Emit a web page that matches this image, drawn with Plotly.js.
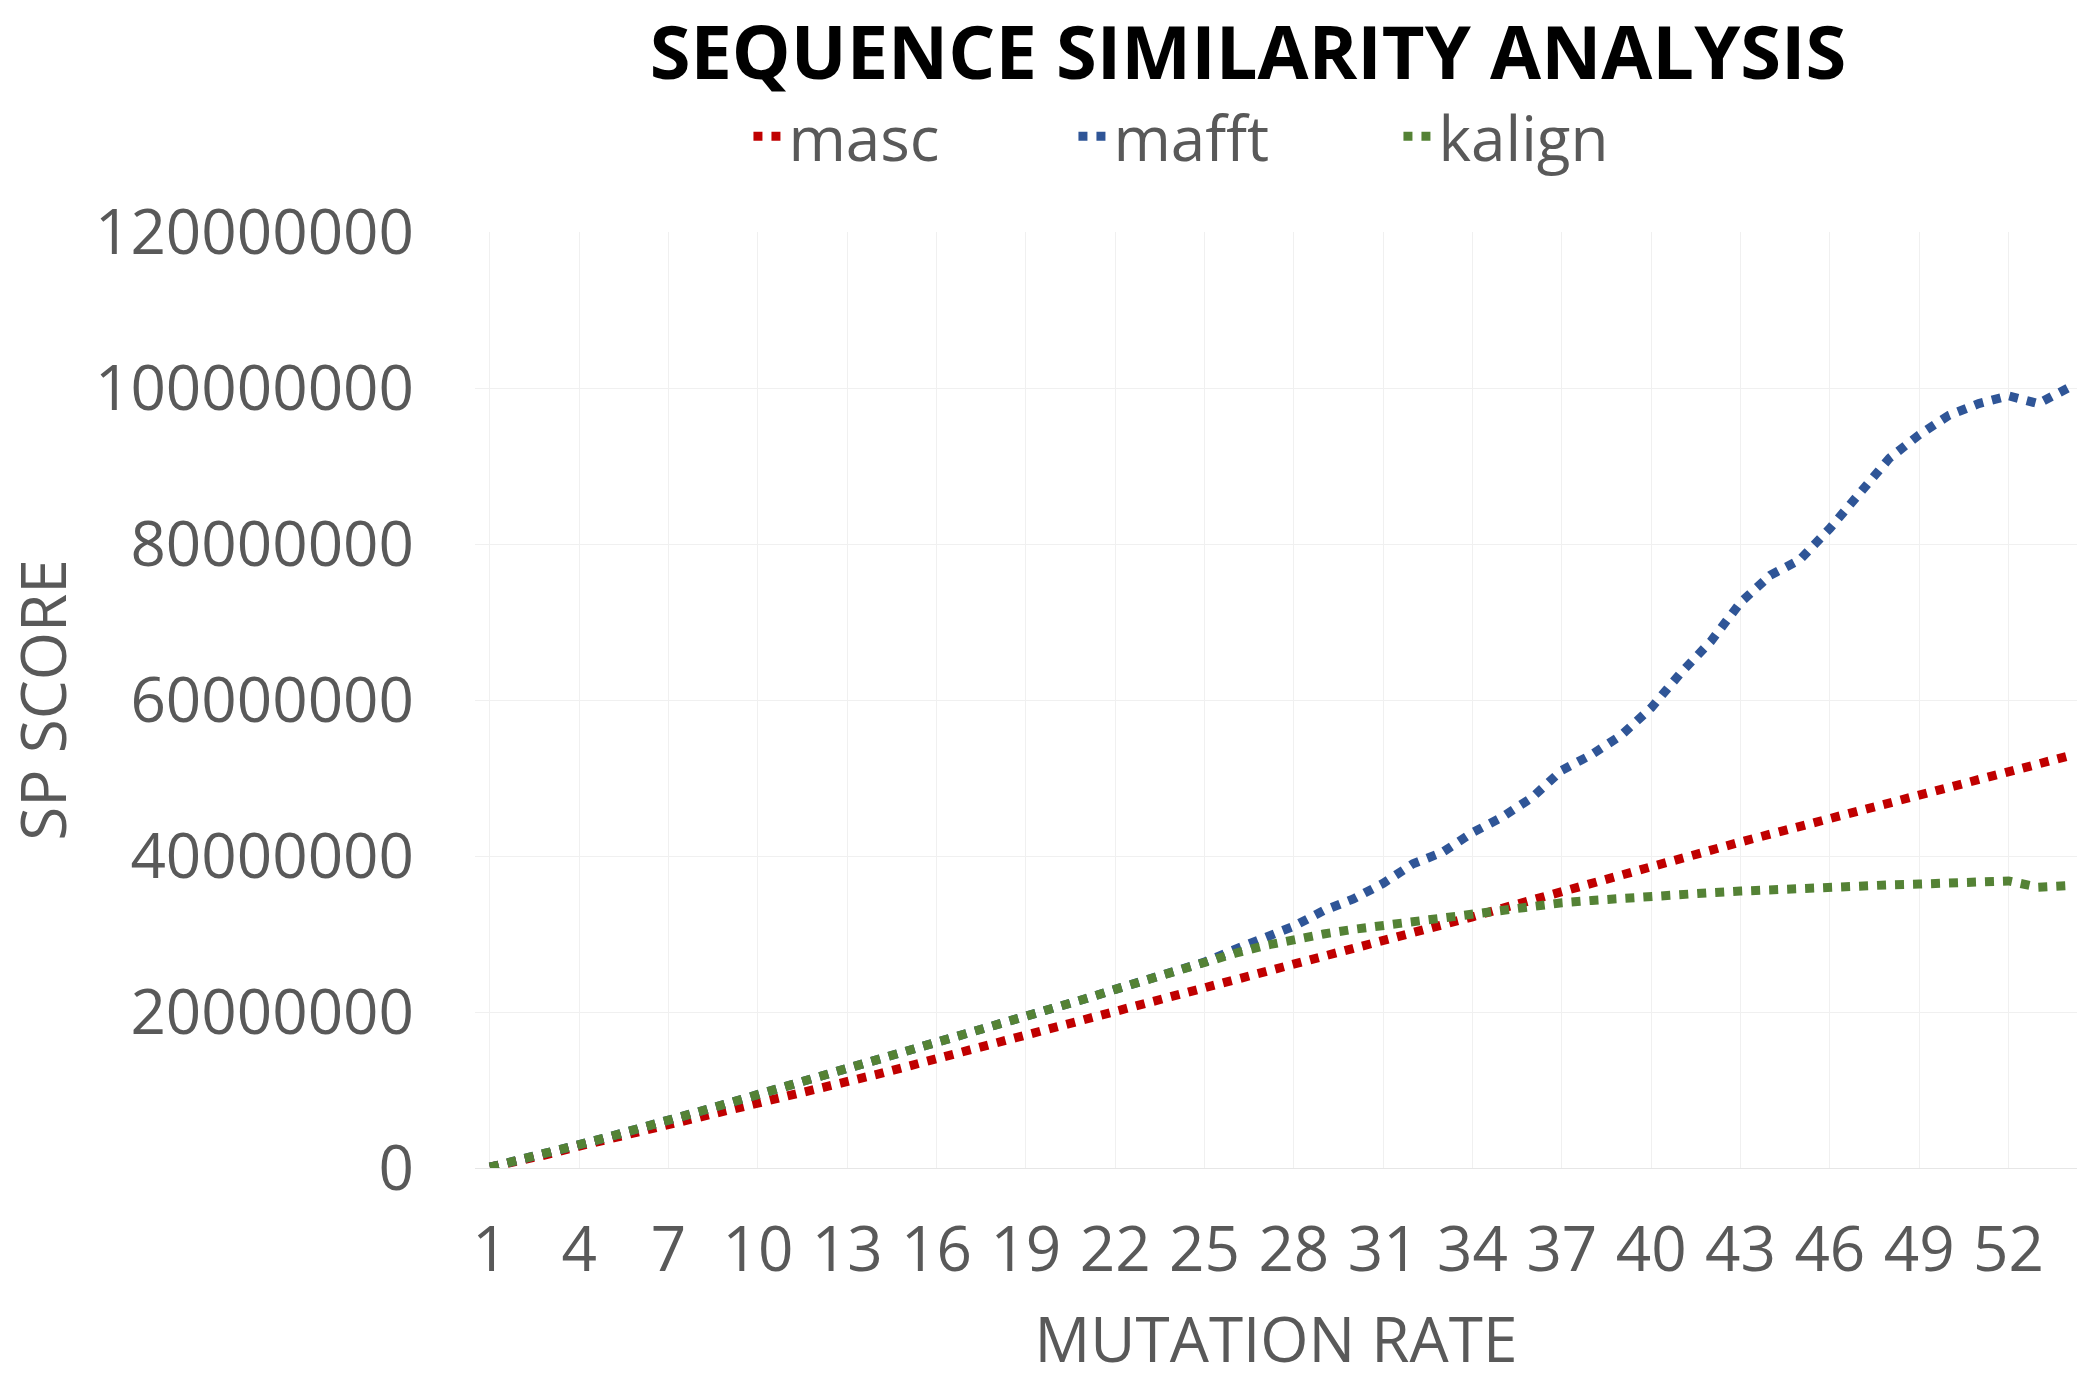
<!DOCTYPE html>
<html>
<head>
<meta charset="utf-8">
<script src="https://cdn.plot.ly/plotly-3.0.1.min.js"></script>
<style>
  html, body { margin: 0; padding: 0; background: #fff; }
  #chart { width: 2080px; height: 1386px; }
</style>
</head>
<body>
<div id="chart"></div>
<script>
// mutation rate steps 1..54
const rates = Array.from({ length: 54 }, (_, i) => String(i + 1))

const masc = [
  0.1e6, 0.9e6, 1.8e6, 2.8e6, 3.7e6, 4.6e6, 5.5e6, 6.4e6, 7.3e6, 8.2e6,
  9.1e6, 10.0e6, 11.0e6, 12.0e6, 13.0e6, 14.0e6, 15.0e6, 16.0e6, 17.0e6, 18.0e6,
  19.0e6, 20.0e6, 21.0e6, 22.0e6, 23.0e6, 24.0e6, 25.0e6, 26.0e6, 27.0e6, 28.0e6,
  29.0e6, 30.0e6, 31.0e6, 32.2e6, 33.3e6, 34.4e6, 35.5e6, 36.6e6, 37.7e6, 38.8e6,
  39.8e6, 40.8e6, 41.8e6, 42.8e6, 43.8e6, 44.8e6, 45.8e6, 46.8e6, 47.8e6, 48.8e6,
  49.8e6, 50.8e6, 51.8e6, 52.8e6
]
const mafft = [
  0.1e6, 1.0e6, 2.0e6, 3.0e6, 4.0e6, 5.0e6, 6.1e6, 7.2e6, 8.3e6, 9.4e6,
  10.5e6, 11.6e6, 12.7e6, 13.8e6, 14.9e6, 16.0e6, 17.1e6, 18.2e6, 19.3e6, 20.5e6,
  21.7e6, 22.9e6, 24.1e6, 25.2e6, 26.4e6, 28.0e6, 29.5e6, 31.0e6, 33.0e6, 34.5e6,
  36.5e6, 39.0e6, 40.5e6, 43.0e6, 45.0e6, 47.5e6, 51.0e6, 53.0e6, 55.5e6, 59.0e6,
  63.5e6, 67.5e6, 72.5e6, 76.0e6, 78.0e6, 82.0e6, 86.5e6, 91.0e6, 94.0e6, 96.5e6,
  98.0e6, 99.0e6, 98.0e6, 100.0e6
]
const kalign = [
  0.1e6, 1.0e6, 2.0e6, 3.0e6, 4.0e6, 5.0e6, 6.1e6, 7.2e6, 8.3e6, 9.4e6,
  10.5e6, 11.6e6, 12.7e6, 13.8e6, 14.9e6, 16.0e6, 17.1e6, 18.2e6, 19.3e6, 20.5e6,
  21.7e6, 22.9e6, 24.1e6, 25.2e6, 26.4e6, 27.5e6, 28.5e6, 29.3e6, 30.0e6, 30.6e6,
  31.1e6, 31.6e6, 32.1e6, 32.6e6, 33.1e6, 33.6e6, 34.0e6, 34.3e6, 34.6e6, 34.9e6,
  35.1e6, 35.3e6, 35.5e6, 35.7e6, 35.9e6, 36.1e6, 36.2e6, 36.3e6, 36.4e6, 36.5e6,
  36.6e6, 36.8e6, 36.0e6, 36.2e6
]
const seriesNames = ['masc', 'mafft', 'kalign']
const seriesColors = ['#C00000', '#2F5597', '#548235']
const yTicks = [0, 20000000, 40000000, 60000000, 80000000, 100000000, 120000000]
const xTicks = rates.filter((_, i) => i % 3 === 0)

const data = [masc, mafft, kalign].map((ys, i) => ({
  x: rates,
  y: ys,
  mode: 'lines',
  name: seriesNames[i],
  line: { color: seriesColors[i], width: 9, dash: 'dot' },
}))

const layout = {
  width: 2080,
  height: 1386,
  paper_bgcolor: '#fff',
  plot_bgcolor: '#fff',
  font: { family: 'Open Sans, sans-serif', color: '#595959', size: 62 },
  title: {
    text: 'SEQUENCE SIMILARITY ANALYSIS',
    font: { family: 'Open Sans, sans-serif', size: 74, color: '#000', weight: 'bold' },
    x: 0.6, xanchor: 'center', y: 0.962, yanchor: 'middle',
  },
  showlegend: true,
  legend: {
    orientation: 'h',
    x: 0.475, xanchor: 'center', y: 1.102, yanchor: 'middle',
    font: { size: 62, color: '#595959' },
    itemwidth: 30, entrywidth: 280, tracegroupgap: 0,
  },
  margin: { l: 475, r: 3, t: 232, b: 218 },
  xaxis: {
    type: 'category',
    tickvals: xTicks,
    ticktext: xTicks,
    showgrid: true,
    gridcolor: '#f0f0f0',
    showline: false,
    ticks: '',
    tickfont: { size: 62, color: '#595959' },
    ticklabelstandoff: 40,
    title: { text: 'MUTATION RATE', font: { size: 62, color: '#595959' }, standoff: 30 },
    range: [-0.5, 53.3],
  },
  yaxis: {
    range: [0, 120000000],
    tickvals: yTicks,
    ticktext: yTicks.map(String),
    showgrid: true,
    gridcolor: '#f0f0f0',
    zeroline: true,
    zerolinecolor: '#e6e6e6',
    tickfont: { size: 62, color: '#595959' },
    ticklabelstandoff: 60,
    title: { text: 'SP SCORE', font: { size: 62, color: '#595959' }, standoff: 30 },
  },
}

Plotly.newPlot('chart', data, layout, { displayModeBar: false, staticPlot: true })
</script>
</body>
</html>
